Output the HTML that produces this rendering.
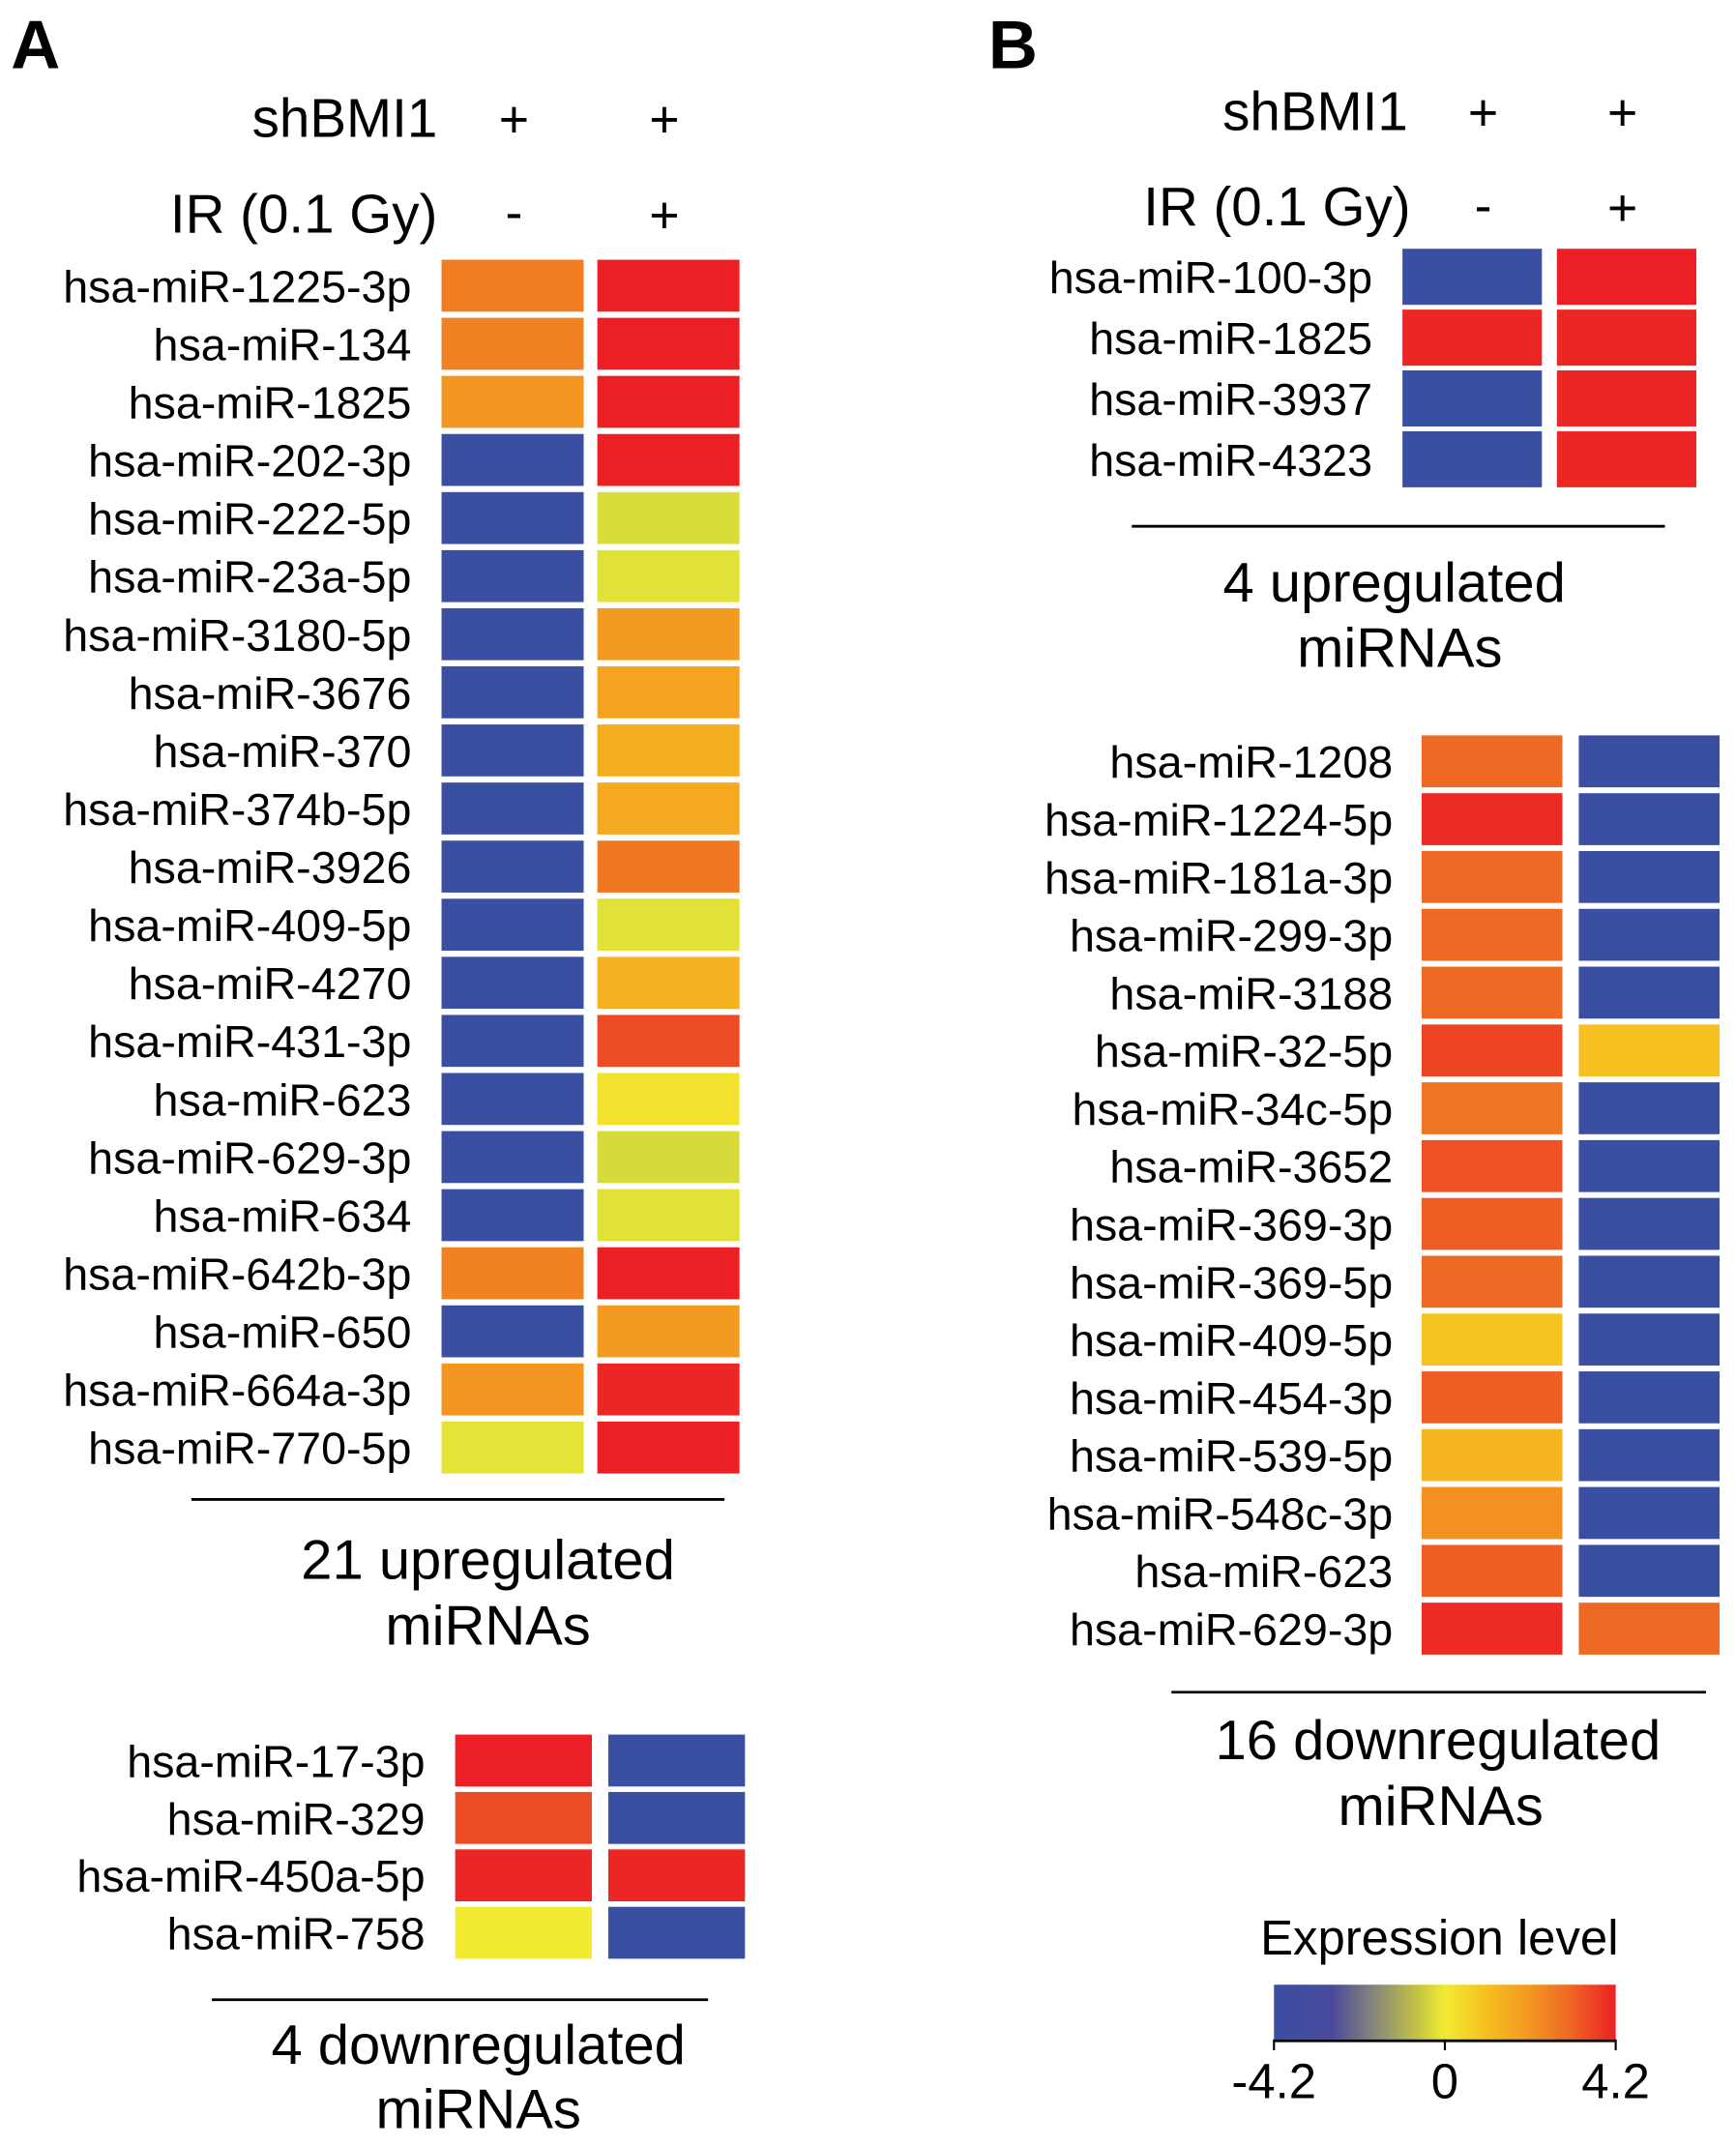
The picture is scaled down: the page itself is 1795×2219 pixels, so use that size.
<!DOCTYPE html>
<html><head><meta charset="utf-8"><style>
html,body{margin:0;padding:0;background:#fff;}
svg{display:block;font-family:"Liberation Sans",Arial,sans-serif;}
</style></head><body>
<svg id="fig" width="1795" height="2219" viewBox="0 0 1270 1570" xmlns="http://www.w3.org/2000/svg">
<defs>
<linearGradient id="cbar" x1="0" x2="1" y1="0" y2="0">
<stop offset="0" stop-color="#3a4ea2"/><stop offset="0.17" stop-color="#4a4a9c"/><stop offset="0.3" stop-color="#8a8a78"/><stop offset="0.43" stop-color="#c9c840"/><stop offset="0.5" stop-color="#f2eb32"/><stop offset="0.62" stop-color="#f6c020"/><stop offset="0.74" stop-color="#f39a20"/><stop offset="0.86" stop-color="#ee6a24"/><stop offset="1" stop-color="#ec2024"/>
</linearGradient>
</defs>
<g id="root"></g>
</svg>
<script>
// Panel A upregulated
const aUpLabels = ["hsa-miR-1225-3p","hsa-miR-134","hsa-miR-1825","hsa-miR-202-3p","hsa-miR-222-5p","hsa-miR-23a-5p","hsa-miR-3180-5p","hsa-miR-3676","hsa-miR-370","hsa-miR-374b-5p","hsa-miR-3926","hsa-miR-409-5p","hsa-miR-4270","hsa-miR-431-3p","hsa-miR-623","hsa-miR-629-3p","hsa-miR-634","hsa-miR-642b-3p","hsa-miR-650","hsa-miR-664a-3p","hsa-miR-770-5p"];
const aUpCtrl = [2.6,2.5,2.1,-4.2,-4.2,-4.2,-4.2,-4.2,-4.2,-4.2,-4.2,-4.2,-4.2,-4.2,-4.2,-4.2,-4.2,2.5,-4.2,2.1,-0.2];
const aUpIR = [4.2,4.2,4.2,4.2,-0.35,-0.25,2.0,1.8,1.5,1.6,2.7,-0.25,1.4,3.5,0.2,-0.4,-0.25,4.2,2.0,4.1,4.2];
// Panel A downregulated
const aDnLabels = ["hsa-miR-17-3p","hsa-miR-329","hsa-miR-450a-5p","hsa-miR-758"];
const aDnCtrl = [4.2,3.5,4.1,0.0];
const aDnIR = [-4.2,-4.2,4.1,-4.2];
// Panel B upregulated
const bUpLabels = ["hsa-miR-100-3p","hsa-miR-1825","hsa-miR-3937","hsa-miR-4323"];
const bUpCtrl = [-4.2,4.1,-4.2,-4.2];
const bUpIR = [4.2,4.1,4.1,4.1];
// Panel B downregulated
const bDnLabels = ["hsa-miR-1208","hsa-miR-1224-5p","hsa-miR-181a-3p","hsa-miR-299-3p","hsa-miR-3188","hsa-miR-32-5p","hsa-miR-34c-5p","hsa-miR-3652","hsa-miR-369-3p","hsa-miR-369-5p","hsa-miR-409-5p","hsa-miR-454-3p","hsa-miR-539-5p","hsa-miR-548c-3p","hsa-miR-623","hsa-miR-629-3p"];
const bDnCtrl = [3.0,4.0,3.0,3.0,3.0,3.6,2.8,3.4,3.2,3.0,0.9,3.2,1.3,2.2,3.2,4.0];
const bDnIR = [-4.2,-4.2,-4.2,-4.2,-4.2,1.0,-4.2,-4.2,-4.2,-4.2,-4.2,-4.2,-4.2,-4.2,-4.2,3.0];
const cbTicks = [-4.2,0,4.2];

const NS="http://www.w3.org/2000/svg";
const root=document.getElementById('root');
const stops=[[-4.2,[58,78,162]],[-2.8,[74,74,156]],[-1.7,[138,138,120]],[-0.6,[201,210,64]],[0,[242,235,50]],[1.0,[246,192,32]],[2.0,[243,154,32]],[3.0,[238,106,36]],[4.2,[236,32,36]]];
function color(v){
  v=Math.max(-4.2,Math.min(4.2,v));
  for(let i=1;i<stops.length;i++){
    if(v<=stops[i][0]){const a=stops[i-1],b=stops[i];const t=(v-a[0])/(b[0]-a[0]);
      const c=a[1].map((x,k)=>Math.round(x+(b[1][k]-x)*t));return `rgb(${c.join(',')})`;}
  }
  return 'rgb(236,32,36)';
}
function mk(tag,attrs,parent){const e=document.createElementNS(NS,tag);for(const k in attrs)e.setAttribute(k,attrs[k]);(parent||root).appendChild(e);return e;}
function txt(s,x,y,size,anchor,name,weight){
  const t=mk('text',{x:x,y:y,'font-size':size,'text-anchor':anchor||'start',fill:'#000'});
  if(weight)t.setAttribute('font-weight',weight);
  
  
  t.textContent=s;return t;
}
function heat(labels,ctrl,ir,o){
  const g=mk('g',{});
  
  
  labels.forEach((lab,i)=>{
    const y=o.top+i*o.pitch;
    const t=txt(lab,o.labelX,y+o.h*0.5+12,33,'end','row-label',null);
    g.appendChild(t);
    const r1=mk('rect',{x:o.c1,y:y,width:o.w,height:o.h,fill:color(ctrl[i])},g);
    
    
    const r2=mk('rect',{x:o.c2,y:y,width:o.w,height:o.h,fill:color(ir[i])},g);
    
    
  });
}
function rule(x1,x2,y,name){const l=mk('line',{x1:x1,x2:x2,y1:y,y2:y,stroke:'#000','stroke-width':2});
  
  }

// Panel A
txt('A',8,50,50,'start','panel-a-label','bold');
txt('shBMI1',320,100,40,'end','shbmi1-label');
txt('+',376,100,38,'middle','shbmi1-ctrl-sign');
txt('+',486,100,38,'middle','shbmi1-ir-sign');
txt('IR (0.1 Gy)',320,170,40,'end','ir-label');
txt('-',376,168,38,'middle','ir-ctrl-sign');
txt('+',486,170,38,'middle','ir-ir-sign');
heat(aUpLabels,aUpCtrl,aUpIR,{name:'a-up-heatmap',top:190,pitch:42.5,h:38,w:104,c1:323,c2:437,labelX:301});
rule(140,530,1097,'a-up-divider');
txt('21 upregulated',357,1155,41,'middle','a-up-title');
txt('miRNAs',357,1203,41,'middle','a-up-title-2');
heat(aDnLabels,aDnCtrl,aDnIR,{name:'a-down-heatmap',top:1269,pitch:42,h:38,w:100,c1:333,c2:445,labelX:311});
rule(155,518,1463,'a-down-divider');
txt('4 downregulated',350,1510,41,'middle','a-down-title');
txt('miRNAs',350,1557,41,'middle','a-down-title-2');

// Panel B
txt('B',723,50,50,'start','panel-b-label','bold');
txt('shBMI1',1030,95,40,'end','b-shbmi1-label');
txt('+',1085,95,38,'middle','b-shbmi1-ctrl-sign');
txt('+',1187,95,38,'middle','b-shbmi1-ir-sign');
txt('IR (0.1 Gy)',1032,165,40,'end','b-ir-label');
txt('-',1085,163,38,'middle','b-ir-ctrl-sign');
txt('+',1187,165,38,'middle','b-ir-ir-sign');
heat(bUpLabels,bUpCtrl,bUpIR,{name:'b-up-heatmap',top:182,pitch:44.5,h:41,w:102,c1:1026,c2:1139,labelX:1004});
rule(828,1218,385,'b-up-divider');
txt('4 upregulated',1020,440,41,'middle','b-up-title');
txt('miRNAs',1024,488,41,'middle','b-up-title-2');
heat(bDnLabels,bDnCtrl,bDnIR,{name:'b-down-heatmap',top:538,pitch:42.3,h:38,w:103,c1:1040,c2:1155,labelX:1019});
rule(857,1248,1238,'b-down-divider');
txt('16 downregulated',1052,1287,41,'middle','b-down-title');
txt('miRNAs',1054,1335,41,'middle','b-down-title-2');

// Color bar
txt('Expression level',1053,1430,36,'middle','colorbar-title');
const cb=mk('rect',{x:932,y:1452,width:250,height:40,fill:'url(#cbar)'});


const cx=v=>932+(v+4.2)/8.4*250;
rule(932,1182,1493,'colorbar-axis');
cbTicks.forEach(v=>{
  const l=mk('line',{x1:cx(v),x2:cx(v),y1:1492,y2:1500,stroke:'#000','stroke-width':1.5});
  
  
  txt(String(v),cx(v),1535,36,'middle','colorbar-tick-label');
});
</script>
</body></html>
